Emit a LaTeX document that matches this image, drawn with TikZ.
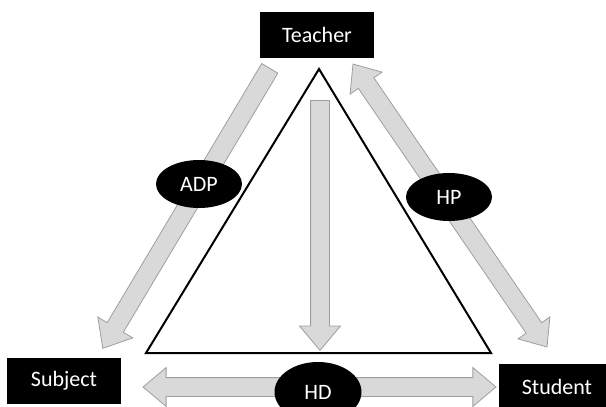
\documentclass[tikz,border=0pt]{standalone}
\usepackage{fontspec}
\setmainfont{Carlito}
\usetikzlibrary{shapes.geometric,shapes.arrows,calc}

\begin{document}
\begin{tikzpicture}[x=1pt,y=-1pt,
  box node/.style={rectangle,fill=black,text=white,minimum width=114pt,minimum height=46pt,inner sep=0pt,font=\fontsize{22}{26}\selectfont},
  label node/.style={ellipse,fill=black,text=white,minimum width=86pt,minimum height=48pt,inner sep=0pt,font=\fontsize{22}{26}\selectfont},
  one arrow/.style={single arrow,fill=black!15,draw=black!38,line width=0.8pt,inner sep=9pt,single arrow head extend=11pt,single arrow tip angle=80},
  two arrow/.style={double arrow,fill=black!15,draw=black!38,line width=0.8pt,inner sep=9pt,double arrow head extend=10pt,double arrow tip angle=80}]

  \useasboundingbox (0,0) rectangle (606,407);

  % triangle
  \coordinate (top) at (319,69);
  \coordinate (left) at (146,353);
  \coordinate (right) at (491,353);
  \draw[line width=2pt,line join=miter] (top) -- (left) -- (right) -- cycle;

  % arrow ends
  \coordinate (adp1) at (270,68);
  \coordinate (adp2) at (103,348);
  \coordinate (hp1) at (353,64);
  \coordinate (hp2) at (547,347);
  \coordinate (hd1) at (143,387);
  \coordinate (hd2) at (496,387);
  \coordinate (mid1) at (320,100);
  \coordinate (mid2) at (320,350);

  \path let \p1=(adp1), \p2=(adp2), \n1={veclen(\x2-\x1,\y2-\y1)}, \n2={atan2(\y2-\y1,\x2-\x1)} in
    node[one arrow,minimum height=\n1,rotate=\n2,anchor=tail] at (adp1) {};
  \path let \p1=(mid1), \p2=(mid2), \n1={veclen(\x2-\x1,\y2-\y1)}, \n2={atan2(\y2-\y1,\x2-\x1)} in
    node[one arrow,minimum height=\n1,rotate=\n2,anchor=tail] at (mid1) {};
  \path let \p1=(hp1), \p2=(hp2), \n1={veclen(\x2-\x1,\y2-\y1)}, \n2={atan2(\y2-\y1,\x2-\x1)} in
    node[two arrow,minimum height=\n1,rotate=\n2] at ($(hp1)!0.5!(hp2)$) {};
  \path let \p1=(hd1), \p2=(hd2), \n1={veclen(\x2-\x1,\y2-\y1)}, \n2={atan2(\y2-\y1,\x2-\x1)} in
    node[two arrow,minimum height=\n1,rotate=\n2] at ($(hd1)!0.5!(hd2)$) {};

  \node[box node] (teacher) at (317,35) {Teacher};
  \node[box node] (subject) at (64,381) {Subject};
  \node[box node,minimum width=116pt] (student) at (557,387) {Student};

  \node[label node] (adp) at (199,184) {ADP};
  \node[label node] (hp) at (449,197) {HP};
  \node[label node,minimum width=87pt,minimum height=60pt] (hd) at (318,392) {HD};

\end{tikzpicture}
\end{document}
